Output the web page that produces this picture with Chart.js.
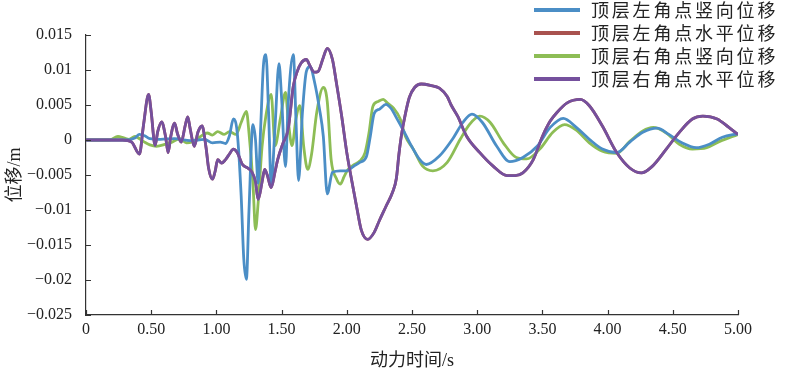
<!DOCTYPE html>
<html><head><meta charset="utf-8">
<script src="https://cdn.jsdelivr.net/npm/chart.js@4.4.1/dist/chart.umd.min.js"></script>
<style>html,body{margin:0;padding:0;background:#fff}#wrap{width:795px;height:376px;position:relative}</style>
</head><body><div id="wrap"><canvas id="c" width="795" height="376"></canvas></div>
<script>
// ---- data ----
const seriesNames = ['顶层左角点竖向位移','顶层左角点水平位移','顶层右角点竖向位移','顶层右角点水平位移'];
const xTickValues = [0,0.5,1,1.5,2,2.5,3,3.5,4,4.5,5];
const xTickLabels = ['0','0.50','1.00','1.50','2.00','2.50','3.00','3.50','4.00','4.50','5.00'];
const yTickValues = [-0.025,-0.02,-0.015,-0.01,-0.005,0,0.005,0.01,0.015];
const yTickLabels = ['\u22120.025','\u22120.02','\u22120.015','\u22120.01','\u22120.005','0','0.005','0.01','0.015'];

// 顶层左角点竖向位移 (blue)
const leftVertT = [0,0.30,0.375,0.41,0.45,0.49,0.57,0.68,0.80,0.91,0.97,1.03,1.07,1.10,1.13,1.16,1.19,1.21,1.23,1.25,1.28,1.30,1.32,1.34,1.36,1.38,1.40,1.42,1.45,1.48,1.50,1.53,1.55,1.59,1.61,1.63,1.66,1.69,1.72,1.75,1.79,1.82,1.85,1.89,1.95,2.00,2.05,2.10,2.15,2.18,2.21,2.25,2.30,2.34,2.38,2.43,2.48,2.56,2.61,2.71,2.81,2.89,2.96,3.04,3.15,3.25,3.35,3.46,3.56,3.66,3.76,3.86,3.96,4.07,4.17,4.27,4.38,4.47,4.57,4.68,4.78,4.88,5.00];
const leftVertV = [0,0,0.0003,0.0008,0.0006,0.0002,0.0001,0.0002,-0.0001,0.0001,-0.0004,-0.0003,-0.0005,0.0006,0.003,0.001,-0.008,-0.017,-0.0199,-0.01,0.0022,0.0,-0.0062,0.002,0.0105,0.0122,0.004,-0.0063,0.002,0.0109,0.006,-0.0038,0.005,0.0122,0.003,-0.0058,0.004,0.0098,0.0105,0.0085,0.0045,0.0005,-0.0077,-0.0046,-0.0044,-0.0044,-0.0038,-0.0032,-0.0024,0.0005,0.0038,0.0044,0.0051,0.0045,0.0032,0.0015,-0.0003,-0.0028,-0.0035,-0.0023,0.0001,0.0025,0.0037,0.0025,-0.0009,-0.0031,-0.0025,-0.0009,0.0018,0.0031,0.0018,0.0001,-0.0013,-0.0018,-0.0003,0.0011,0.0017,0.0008,-0.0004,-0.0011,-0.0006,0.0004,0.0009];

// 顶层右角点竖向位移 (green)
const rightVertT = [0,0.18,0.245,0.29,0.33,0.375,0.44,0.49,0.54,0.61,0.66,0.72,0.77,0.82,0.87,0.93,0.97,1.01,1.06,1.10,1.15,1.19,1.23,1.25,1.28,1.30,1.32,1.35,1.38,1.42,1.45,1.49,1.53,1.55,1.58,1.61,1.64,1.67,1.70,1.73,1.77,1.82,1.85,1.88,1.92,1.95,1.98,2.01,2.05,2.10,2.14,2.17,2.20,2.24,2.28,2.31,2.36,2.41,2.45,2.51,2.58,2.66,2.77,2.87,2.94,3.02,3.10,3.20,3.30,3.38,3.48,3.58,3.67,3.76,3.86,3.96,4.07,4.17,4.27,4.35,4.45,4.55,4.65,4.76,4.86,5.00];
const rightVertV = [0,0,0.0005,0.0003,0.0001,0.0005,-0.0002,-0.0007,-0.0009,-0.0006,-0.0003,0.0002,-0.0004,-0.0002,0.0004,0.001,0.0007,0.0012,0.0008,0.0012,0.0008,0.0025,0.0041,0.001,-0.006,-0.0128,-0.009,-0.001,0.0035,0.0065,-0.0008,0.003,0.0068,0.003,-0.0008,0.003,0.0049,-0.001,-0.0042,-0.002,0.004,0.0075,0.0055,-0.0028,-0.0055,-0.0063,-0.0052,-0.0042,-0.0036,-0.003,-0.0018,0.001,0.0048,0.0055,0.0058,0.0053,0.0045,0.003,0.0005,-0.0013,-0.0037,-0.0044,-0.0032,0.0001,0.0022,0.0034,0.0025,-0.0004,-0.0025,-0.0027,-0.0013,0.0011,0.0022,0.0014,-0.0004,-0.0016,-0.0019,-0.0002,0.0013,0.0018,0.001,-0.0006,-0.0013,-0.0011,-0.0002,0.0008];

// 顶层右角点水平位移 (purple)
const rightHorizT = [0,0.28,0.35,0.41,0.44,0.48,0.50,0.53,0.55,0.58,0.61,0.63,0.65,0.68,0.70,0.73,0.76,0.78,0.80,0.83,0.86,0.89,0.92,0.94,0.97,0.99,1.01,1.04,1.07,1.10,1.13,1.16,1.20,1.24,1.27,1.30,1.32,1.35,1.37,1.39,1.42,1.45,1.47,1.51,1.55,1.59,1.62,1.65,1.69,1.72,1.75,1.78,1.82,1.85,1.89,1.92,1.96,2.00,2.04,2.08,2.11,2.16,2.21,2.25,2.30,2.35,2.38,2.40,2.42,2.45,2.48,2.52,2.57,2.64,2.71,2.77,2.80,2.85,2.92,3.02,3.12,3.23,3.29,3.35,3.43,3.50,3.56,3.61,3.69,3.79,3.86,3.96,4.07,4.17,4.26,4.34,4.45,4.55,4.65,4.73,4.84,4.93,5.00];
const rightHorizV = [0,0,-0.0003,-0.002,0.002,0.0065,0.004,-0.0008,0.0012,0.0026,0.0005,-0.0018,0.0005,0.0024,0.001,-0.0003,0.002,0.0033,0.0015,-0.0009,0.0012,0.002,-0.001,-0.004,-0.0056,-0.0045,-0.0028,-0.0033,-0.0028,-0.002,-0.0013,-0.0018,-0.0035,-0.004,-0.0045,-0.006,-0.0085,-0.006,-0.0042,-0.005,-0.0068,-0.0045,-0.0028,-0.0005,0.0015,0.0077,0.0098,0.011,0.0115,0.0105,0.0097,0.0098,0.0118,0.0131,0.0115,0.0082,0.0035,-0.0018,-0.006,-0.01,-0.0128,-0.0142,-0.0132,-0.0115,-0.0095,-0.0075,-0.0055,-0.002,0.0008,0.0038,0.0061,0.0075,0.008,0.0078,0.0074,0.0062,0.005,0.0034,0.0005,-0.0018,-0.0037,-0.0051,-0.0051,-0.0047,-0.0028,0.0005,0.0027,0.0039,0.0053,0.0058,0.0049,0.002,-0.0018,-0.004,-0.0047,-0.0038,-0.0013,0.0011,0.003,0.0034,0.003,0.0018,0.0008];

// 顶层左角点水平位移 (red) — lies under the purple curve in the figure
const leftHorizT = rightHorizT.slice();
const leftHorizV = rightHorizV.slice();

const colors = ['#4b8ec6','#a9524f','#8dbd55','#75509d'];

function pts(T, V){ return T.map((t,i)=>({x:t,y:V[i]})); }

const legendPlugin = {
  id:'customLegend',
  afterDraw(chart){
    const ctx = chart.ctx;
    ctx.save();
    chart.data.datasets.forEach((ds,i)=>{
      const y = 10 + i*23;
      ctx.strokeStyle = ds.borderColor;
      ctx.lineWidth = 4;
      ctx.beginPath(); ctx.moveTo(534,y); ctx.lineTo(580,y); ctx.stroke();
      ctx.fillStyle = '#222';
      ctx.font = '18px "Noto Sans CJK SC"';
      ctx.textBaseline = 'middle';
      ctx.textAlign = 'left';
      const chars = Array.from(ds.label);
      chars.forEach((ch,k)=>{ ctx.fillText(ch, 591 + k*20.8, y); });
    });
    ctx.restore();
  }
};

const tickPlugin = {
  id:'innerTicks',
  afterDraw(chart){
    const ctx = chart.ctx;
    const xs = chart.scales.x, ys = chart.scales.y;
    ctx.save();
    ctx.strokeStyle = '#333'; ctx.lineWidth = 1.2;
    ctx.beginPath();
    xs.ticks.forEach(t=>{ const p = Math.round(xs.getPixelForValue(t.value))+0.5; ctx.moveTo(p, ys.bottom); ctx.lineTo(p, ys.bottom-5); });
    ys.ticks.forEach(t=>{ const p = Math.round(ys.getPixelForValue(t.value))+0.5; ctx.moveTo(xs.left, p); ctx.lineTo(xs.left+5, p); });
    ctx.stroke();
    ctx.restore();
  }
};

const tickFont = {family:"'Liberation Serif', 'Times New Roman', 'DejaVu Serif', serif", size:16};
const titleFont = {family:"'Liberation Serif', 'Times New Roman', 'Noto Sans CJK SC', serif", size:18};

new Chart(document.getElementById('c'), {
  type:'line',
  data:{ datasets:[
    {label:seriesNames[0], data:pts(leftVertT,leftVertV), borderColor:colors[0], order:1},
    {label:seriesNames[1], data:pts(leftHorizT,leftHorizV), borderColor:colors[1], order:3},
    {label:seriesNames[2], data:pts(rightVertT,rightVertV), borderColor:colors[2], order:2},
    {label:seriesNames[3], data:pts(rightHorizT,rightHorizV), borderColor:colors[3], order:0}
  ].map(d=>Object.assign(d,{borderWidth:2.8, pointRadius:0, fill:false, cubicInterpolationMode:'monotone'}))},
  options:{
    responsive:false, animation:false, devicePixelRatio:1,
    layout:{padding:{top:35,right:57,bottom:0,left:0}},
    plugins:{legend:{display:false}, tooltip:{enabled:false}},
    scales:{
      x:{type:'linear', min:0, max:5,
        afterBuildTicks(s){ s.ticks = xTickValues.map(v=>({value:v})); },
        afterFit(s){ s.height = 61; },
        grid:{display:false}, border:{display:true,color:'#333',width:1.2},
        ticks:{padding:-3, color:'#222', font:tickFont, maxRotation:0, autoSkip:false,
          callback(v){ const i = xTickValues.indexOf(v); return i>=0 ? xTickLabels[i] : ''; }},
        title:{display:true, text:'动力时间/s', color:'#222', font:titleFont, padding:{top:0,bottom:4}}
      },
      y:{type:'linear', min:-0.025, max:0.015,
        afterBuildTicks(s){ s.ticks = yTickValues.map(v=>({value:v})); },
        afterFit(s){ s.width = 86; },
        grid:{display:false}, border:{display:true,color:'#333',width:1.2},
        ticks:{padding:6, color:'#222', font:tickFont, autoSkip:false,
          callback(v){ const i = yTickValues.findIndex(w=>Math.abs(w-v)<1e-9); return i>=0 ? yTickLabels[i] : ''; }},
        title:{display:true, text:'位移/m', color:'#222', font:titleFont, padding:{top:4,bottom:0}}
      }
    }
  },
  plugins:[legendPlugin, tickPlugin]
});
</script>
</body></html>
